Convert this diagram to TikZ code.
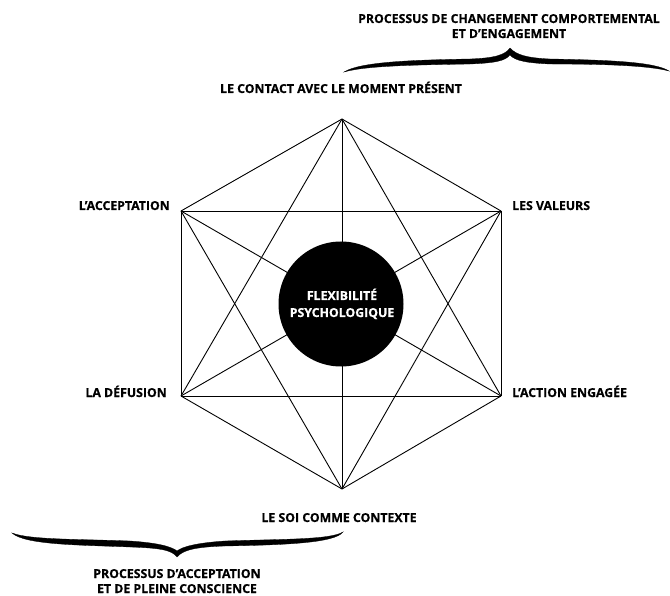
\documentclass[tikz,border=0pt]{standalone}
\usepackage{fontspec}
\setmainfont{Open Sans}[BoldFeatures={FakeBold=0.6}]
\begin{document}
\begin{tikzpicture}[x=1pt,y=-1pt,
  lab/.style={font=\bfseries\fontsize{12.3}{15}\selectfont, inner sep=0pt},
  edge/.style={line width=0.9pt, black},
  brace/.style={fill=black, draw=black, line width=0.3pt}]
\useasboundingbox (0,0) rectangle (670,596);
% vertices
\coordinate (T) at (342,119);
\coordinate (UL) at (181,211);
\coordinate (UR) at (501,211);
\coordinate (LL) at (181,396);
\coordinate (LR) at (501,396);
\coordinate (B) at (342,489);
% complete graph
\foreach \a/\b in {T/UL,T/UR,T/LL,T/LR,T/B,UL/UR,UL/LL,UL/LR,UL/B,UR/LL,UR/LR,UR/B,LL/LR,LL/B,LR/B}
  \draw[edge] (\a) -- (\b);
% center circle
\node (c) [circle, fill=black, minimum size=125pt, inner sep=0pt] at (341,304) {};
\node[lab, text=white, anchor=base] (c1) at (342,300) {FLEXIBILIT\'E};
\node[lab, text=white, anchor=base] (c2) at (342,317) {PSYCHOLOGIQUE};
% labels
\node[lab, anchor=base] (lt) at (341,93) {LE CONTACT AVEC LE MOMENT PR\'ESENT};
\node[lab, anchor=base east] (lul) at (170,210) {L’ACCEPTATION};
\node[lab, anchor=base west] (lur) at (512,210) {LES VALEURS};
\node[lab, anchor=base east] (lll) at (167,397) {LA D\'EFUSION};
\node[lab, anchor=base west] (llr) at (512,397) {L’ACTION ENGAG\'EE};
\node[lab, anchor=base] (lb) at (339,522) {LE SOI COMME CONTEXTE};
\node[lab, anchor=base] (tt1) at (509,23) {PROCESSUS DE CHANGEMENT COMPORTEMENTAL};
\node[lab, anchor=base] (tt2) at (509,38) {ET D’ENGAGEMENT};
\node[lab, anchor=base] (bt1) at (177,578) {PROCESSUS D’ACCEPTATION};
\node[lab, anchor=base] (bt2) at (177,593) {ET DE PLEINE CONSCIENCE};
% top brace
\path[brace] (344,72) .. controls (360,62) and (410,60) .. (470,59)
  .. controls (495,58) and (505,55) .. (510,48)
  .. controls (516,55) and (528,58) .. (550,59)
  .. controls (610,60) and (655,62) .. (669,71)
  .. controls (650,66) and (610,64) .. (550,64)
  .. controls (528,63) and (515,61) .. (510,55)
  .. controls (505,61) and (495,63) .. (470,64)
  .. controls (410,65) and (365,66) .. (344,72) -- cycle;
% bottom brace
\path[brace] (12,533) .. controls (30,540) and (80,539) .. (130,541)
  .. controls (160,543) and (172,547) .. (177,551)
  .. controls (182,547) and (195,543) .. (225,541)
  .. controls (280,539) and (330,540) .. (343,532)
  .. controls (335,543) and (285,545) .. (225,546)
  .. controls (195,547) and (183,550) .. (177,557)
  .. controls (172,550) and (160,548) .. (130,547)
  .. controls (80,545) and (25,545) .. (12,533) -- cycle;
\end{tikzpicture}
\end{document}
